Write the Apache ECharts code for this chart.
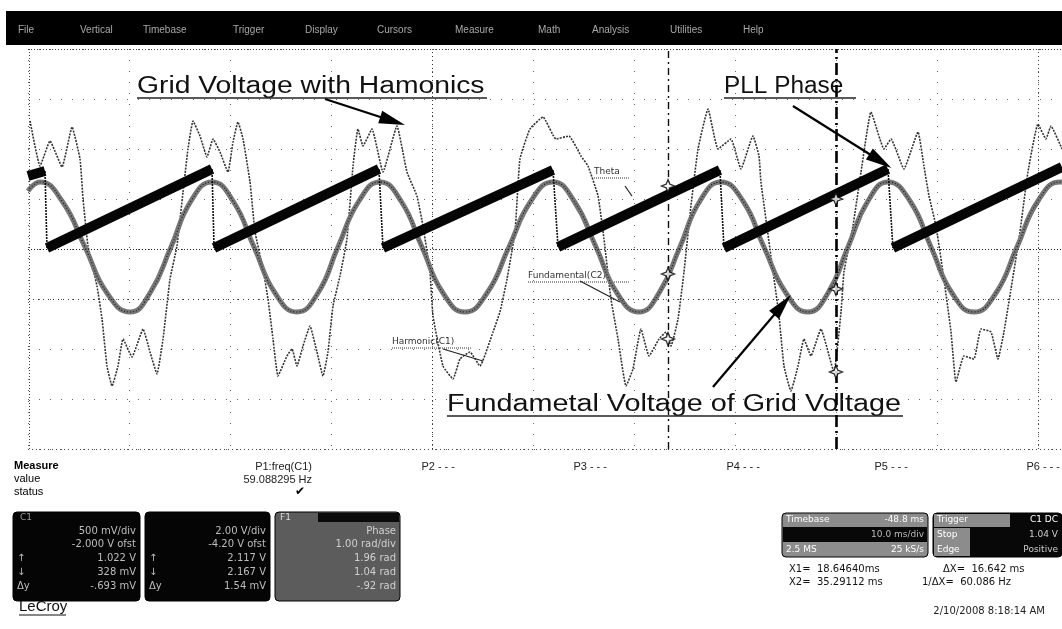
<!DOCTYPE html>
<html>
<head>
<meta charset="utf-8">
<script src="https://cdn.jsdelivr.net/npm/echarts@6/dist/echarts.min.js"></script>
<style>
  html, body { margin: 0; padding: 0; background: #fff; }
  #c { width: 1062px; height: 629px; }
</style>
</head>
<body>
<div id="c"></div>
<script>
// Time in ms (10 ms/div), amplitude in screen divisions (8 div tall).

// C1: grid voltage with harmonics
const harmonicTrace = [
  [0.20, 2.56], [1.19, 1.66], [2.18, 2.16], [3.37, 1.64], [4.36, 2.44], [5.15, 1.80], [5.45, 1.00],
  [5.94, 0.06], [6.83, -0.74], [7.33, -1.40], [7.82, -2.34], [8.32, -2.74], [8.91, -2.34], [9.41, -1.80],
  [10.30, -2.16], [11.39, -1.60], [12.08, -2.06], [12.77, -2.50], [13.37, -1.80], [14.06, -0.60],
  [14.75, 0.06], [15.35, 1.14], [15.84, 2.00],
  [16.34, 2.56], [17.03, 2.26], [17.72, 1.84], [18.32, 2.20], [19.01, 1.94], [19.80, 1.54], [20.30, 2.14],
  [20.79, 2.54], [21.29, 2.20], [21.98, 1.34], [22.48, 0.34], [23.27, -0.40], [23.76, -1.00], [24.26, -1.80],
  [24.75, -2.54], [25.64, -2.14], [26.14, -2.00], [26.63, -2.34], [27.23, -1.94], [27.92, -1.54],
  [28.61, -2.06], [29.21, -2.54], [29.70, -2.06], [30.20, -1.14], [30.89, -0.54], [31.58, 0.20], [32.18, 1.66],
  [32.67, 2.40], [33.17, 2.06], [34.06, 2.40], [35.15, 1.54], [36.53, 2.46], [37.52, 1.54], [38.51, 1.06],
  [39.11, 0.46], [39.80, -0.46], [40.10, -1.34], [41.09, -2.34], [42.08, -2.60], [42.77, -2.20],
  [43.76, -2.06], [44.75, -2.34], [46.04, -1.66], [46.73, -1.26], [47.43, -0.60], [48.22, 0.34], [48.71, 1.80],
  [49.70, 2.40], [50.99, 2.64], [52.28, 2.20], [53.56, 2.26], [54.75, 1.86], [55.45, 1.66], [56.44, 1.06],
  [57.03, 0.20], [57.72, -1.00], [58.42, -1.80], [59.21, -2.74], [59.90, -2.40], [60.69, -1.60],
  [61.49, -2.14], [62.48, -1.80], [63.17, -1.66], [63.66, -1.94], [64.36, -1.40], [64.95, -0.46],
  [65.64, 0.86], [66.34, 2.00],
  [67.33, 2.80], [68.32, 2.00], [69.60, 2.20], [70.59, 1.60], [71.78, 2.26], [72.38, 1.86], [72.57, 1.34],
  [73.56, -0.14], [74.36, -1.34], [74.85, -2.34], [75.54, -2.84], [76.24, -2.34], [76.83, -1.80],
  [77.52, -2.14], [78.51, -1.60], [79.80, -2.46], [80.50, -1.26], [80.79, -0.46], [81.68, 0.46], [82.48, 1.54],
  [83.47, 2.74], [84.75, 2.00], [85.45, 2.20], [86.73, 1.60], [88.12, 2.34], [88.71, 1.66], [89.21, 1.06],
  [89.90, 0.46], [90.59, -0.46], [91.39, -1.66], [91.88, -2.66], [92.67, -2.14], [93.66, -2.20],
  [94.36, -1.60], [95.35, -1.66], [96.04, -2.20], [96.63, -1.66], [97.33, -0.80], [98.12, 0.20],
  [99.01, 1.54], [100.00, 2.50], [100.79, 2.20], [101.29, 2.46], [102.38, 2.00]
];

// C2: fundamental component of the grid voltage
const fundamentalTrace = [
  [0.00, 1.16], [1.19, 1.34], [3.37, 0.96], [5.64, 0.04], [7.82, -0.88], [10.10, -1.26], [12.08, -0.88],
  [14.16, 0.04], [16.14, 0.96], [18.22, 1.34], [20.30, 0.96], [22.38, 0.04], [24.46, -0.88], [26.63, -1.26],
  [28.71, -0.88], [30.69, 0.04], [32.77, 0.96], [34.85, 1.34], [36.93, 0.96], [39.01, 0.04], [41.09, -0.88],
  [43.27, -1.26], [45.45, -0.88], [47.62, 0.04], [49.80, 0.96], [51.98, 1.34], [54.06, 0.96], [56.24, 0.04],
  [58.32, -0.88], [60.50, -1.26], [62.48, -0.88], [64.55, 0.04], [66.53, 0.96], [68.61, 1.34], [70.79, 0.96],
  [72.87, 0.04], [75.05, -0.88], [77.23, -1.26], [79.21, -0.88], [81.19, 0.04], [83.17, 0.96], [85.15, 1.34],
  [87.33, 0.96], [89.41, 0.04], [91.49, -0.88], [93.66, -1.26], [95.84, -0.88], [97.92, 0.04], [100.00, 0.96],
  [102.18, 1.34], [102.38, 1.34]
];

// PLL phase ramps: [tStart, vStart, tEnd, vEnd]
const phaseRamps = [
  [0.00, 1.46, 1.68, 1.56],
  [1.88, 0.02, 18.22, 1.60],
  [18.42, 0.02, 34.75, 1.60],
  [35.15, 0.02, 51.98, 1.58],
  [52.48, 0.04, 68.51, 1.58],
  [68.91, 0.02, 85.15, 1.60],
  [85.64, 0.02, 102.38, 1.64]
];

// Cursor positions (ms) and the readout marks where they cross the traces
const cursorTimes = [63.37, 80.00];
const cursorMarks = [
  [63.37, 1.26], [63.37, -0.50], [63.37, -1.80],
  [80.00, 1.00], [80.00, -0.80], [80.00, -2.46]
];

// Annotation arrows: [tailT, tailV, tipT, tipV]
const arrows = [
  [29.41, 3.00, 36.10, 2.56],
  [75.74, 2.86, 84.40, 1.76],
  [67.82, -2.76, 74.70, -1.12]
];
// Leader lines of the small trace labels
const leaders = [
  [59.11, 1.26, 59.80, 1.06],
  [54.65, -0.64, 58.61, -1.06],
  [41.09, -2.00, 45.05, -2.24]
];

const menuItems = ['File', 'Vertical', 'Timebase', 'Trigger', 'Display', 'Cursors', 'Measure', 'Math', 'Analysis', 'Utilities', 'Help'];
const menuX = [18, 80, 143, 233, 305, 377, 455, 538, 592, 670, 743];
const paramLabels = ['P1:freq(C1)', 'P2 - - -', 'P3 - - -', 'P4 - - -', 'P5 - - -', 'P6 - - -'];
const paramValue = '59.088295 Hz';

const X_MAX = 102.38;

// ---- series data assembled from the arrays above ----
const rampData = [];
const resetData = [];
phaseRamps.forEach((r, i) => {
  rampData.push([r[0], r[1]], [r[2], r[3]], [r[2], '-']);
  const nx = phaseRamps[i + 1];
  if (nx) resetData.push([r[2], r[3]], [nx[0], nx[1]], [nx[0], '-']);
});

const gridMark = (axis, val, dash, color, w) => ({
  [axis]: val, lineStyle: { type: dash, color: color, width: w || 1 }
});

const arrowLines = arrows.map(a => [
  { coord: [a[0], a[1]], symbol: 'none' },
  { coord: [a[2], a[3]], symbol: 'path://M6,0L12,26L0,26Z', symbolSize: [13, 26] }
]);
const leaderLines = leaders.map(a => [
  { coord: [a[0], a[1]], symbol: 'none' },
  { coord: [a[2], a[3]], symbol: 'none' }
]);

const F = '"Liberation Sans", Arial, sans-serif';
const graphics = [];

// menu bar
graphics.push({ type: 'rect', shape: { x: 6, y: 11, width: 1056, height: 34 }, style: { fill: '#000' }, silent: true });
menuItems.forEach((m, i) => graphics.push({
  type: 'text', x: menuX[i], y: 30,
  style: { text: m, font: '10px ' + F, fill: '#a8a8a8', verticalAlign: 'middle' }, silent: true
}));

// big annotations
function note(text, x, y, sx, w) {
  graphics.push({
    type: 'text', x: x, y: y, scaleX: sx, originX: 0, originY: 0,
    style: { text: text, font: '23px ' + F, fill: '#111', verticalAlign: 'middle' }, silent: true
  });
  graphics.push({
    type: 'line', shape: { x1: x, y1: y + 11, x2: x + w, y2: y + 11 },
    style: { stroke: '#222', lineWidth: 1.5 }, silent: true
  });
}
note('Grid Voltage with Hamonics', 137, 87, 1.23, 350);
note('PLL Phase', 724, 87, 1.06, 132);
note('Fundametal Voltage of Grid Voltage', 447, 405, 1.25, 456);

// small trace labels
function tag(text, x, y, w) {
  graphics.push({
    type: 'text', x: x, y: y,
    style: { text: text, font: '9px "DejaVu Sans", sans-serif', fill: '#333', verticalAlign: 'middle' }, silent: true
  });
  graphics.push({
    type: 'line', shape: { x1: x, y1: y + 6, x2: x + w, y2: y + 6 },
    style: { stroke: '#333', lineWidth: 1, lineDash: [1, 1] }, silent: true
  });
}
tag('Theta', 594, 172, 36);
tag('Fundamental(C2)', 528, 276, 102);
tag('Harmonic(C1)', 392, 342, 80);

// measurement table
const small = '11px ' + F;
graphics.push({ type: 'text', x: 14, y: 466, style: { text: 'Measure', font: 'bold ' + small, fill: '#000', verticalAlign: 'middle' }, silent: true });
graphics.push({ type: 'text', x: 14, y: 479, style: { text: 'value', font: small, fill: '#000', verticalAlign: 'middle' }, silent: true });
graphics.push({ type: 'text', x: 14, y: 492, style: { text: 'status', font: small, fill: '#000', verticalAlign: 'middle' }, silent: true });
const pX = [312, 455, 607, 760, 908, 1060];
paramLabels.forEach((p, i) => graphics.push({
  type: 'text', x: pX[i], y: 467,
  style: { text: p, font: small, fill: '#222', align: 'right', verticalAlign: 'middle' }, silent: true
}));
graphics.push({ type: 'text', x: 312, y: 480, style: { text: paramValue, font: small, fill: '#222', align: 'right', verticalAlign: 'middle' }, silent: true });
graphics.push({ type: 'text', x: 300, y: 492, style: { text: '✔', font: '12px "DejaVu Sans"', fill: '#000', align: 'center', verticalAlign: 'middle' }, silent: true });

// channel descriptor boxes
function box(x, y, w, h, fill) {
  graphics.push({ type: 'rect', shape: { x: x, y: y, width: w, height: h, r: 4 }, style: { fill: fill, stroke: '#000', lineWidth: 1 }, silent: true });
}
function txt(t, x, y, color, align, size) {
  graphics.push({ type: 'text', x: x, y: y, style: { text: t, font: (size || 10) + 'px "DejaVu Sans", sans-serif', fill: color, align: align || 'left', verticalAlign: 'middle' }, silent: true });
}
box(13, 512, 127, 89, '#050505');
txt('C1', 20, 518, '#9a9a9a', 'left', 9);
txt('500 mV/div', 136, 531, '#bdbdbd', 'right');
txt('-2.000 V ofst', 136, 544, '#bdbdbd', 'right');
txt('↑', 17, 558, '#bdbdbd'); txt('1.022 V', 136, 558, '#bdbdbd', 'right');
txt('↓', 17, 572, '#bdbdbd'); txt('328 mV', 136, 572, '#bdbdbd', 'right');
txt('Δy', 17, 586, '#bdbdbd'); txt('-.693 mV', 136, 586, '#bdbdbd', 'right');

box(145, 512, 125, 89, '#050505');
txt('2.00 V/div', 266, 531, '#bdbdbd', 'right');
txt('-4.20 V ofst', 266, 544, '#bdbdbd', 'right');
txt('↑', 149, 558, '#bdbdbd'); txt('2.117 V', 266, 558, '#bdbdbd', 'right');
txt('↓', 149, 572, '#bdbdbd'); txt('2.167 V', 266, 572, '#bdbdbd', 'right');
txt('Δy', 149, 586, '#bdbdbd'); txt('1.54 mV', 266, 586, '#bdbdbd', 'right');

box(275, 512, 125, 89, '#5c5c5c');
graphics.push({ type: 'rect', shape: { x: 318, y: 513, width: 81, height: 9 }, style: { fill: '#0a0a0a' }, silent: true });
txt('F1', 280, 518, '#dcdcdc', 'left', 9);
txt('Phase', 396, 531, '#d0d0d0', 'right');
txt('1.00 rad/div', 396, 544, '#d0d0d0', 'right');
txt('1.96 rad', 396, 558, '#d0d0d0', 'right');
txt('1.04 rad', 396, 572, '#d0d0d0', 'right');
txt('-.92 rad', 396, 586, '#d0d0d0', 'right');

// timebase / trigger boxes
box(782, 513, 146, 44, '#8c8c8c');
graphics.push({ type: 'rect', shape: { x: 783, y: 527, width: 144, height: 15 }, style: { fill: '#080808' }, silent: true });
txt('Timebase', 786, 520, '#fff', 'left', 9); txt('-48.8 ms', 924, 520, '#fff', 'right', 9);
txt('10.0 ms/div', 924, 535, '#bbb', 'right', 9);
txt('2.5 MS', 786, 550, '#fff', 'left', 9); txt('25 kS/s', 924, 550, '#fff', 'right', 9);
box(933, 513, 129, 44, '#080808');
graphics.push({ type: 'rect', shape: { x: 934, y: 514, width: 76, height: 13 }, style: { fill: '#8c8c8c' }, silent: true });
graphics.push({ type: 'rect', shape: { x: 934, y: 528, width: 36, height: 28 }, style: { fill: '#8c8c8c' }, silent: true });
txt('Trigger', 937, 520, '#fff', 'left', 9); txt('C1 DC', 1058, 520, '#fff', 'right', 9);
txt('Stop', 937, 535, '#fff', 'left', 9); txt('1.04 V', 1058, 535, '#ccc', 'right', 9);
txt('Edge', 937, 550, '#fff', 'left', 9); txt('Positive', 1058, 550, '#ccc', 'right', 9);

// cursor readouts
txt('X1=  18.64640ms', 789, 569, '#111', 'left', 10);
txt('ΔX=  16.642 ms', 943, 569, '#111', 'left', 10);
txt('X2=  35.29112 ms', 789, 582, '#111', 'left', 10);
txt('1/ΔX=  60.086 Hz', 922, 582, '#111', 'left', 10);
txt('2/10/2008 8:18:14 AM', 1045, 611, '#222', 'right', 10);

// brand
graphics.push({ type: 'text', x: 19, y: 607, style: { text: 'LeCroy', font: '15px ' + F, fill: '#111', verticalAlign: 'middle' }, silent: true });
graphics.push({ type: 'line', shape: { x1: 19, y1: 615, x2: 66, y2: 615 }, style: { stroke: '#111', lineWidth: 1.2 }, silent: true });

const option = {
  animation: false,
  backgroundColor: '#fff',
  grid: { left: 28, right: 0, top: 49, height: 400 },
  xAxis: {
    type: 'value', min: 0, max: X_MAX, interval: 10,
    axisLine: { show: false }, axisTick: { show: false }, axisLabel: { show: false },
    splitLine: { show: true, lineStyle: { color: '#666', type: [1, 10], width: 1 } }
  },
  yAxis: {
    type: 'value', min: -4, max: 4, interval: 1,
    axisLine: { show: false }, axisTick: { show: false }, axisLabel: { show: false },
    splitLine: { show: true, lineStyle: { color: '#666', type: [1, 10], width: 1 } }
  },
  graphic: graphics,
  series: [
    {
      name: 'Harmonic(C1)', type: 'line', data: harmonicTrace, showSymbol: false, smooth: 0.12,
      lineStyle: { color: '#333', width: 1.6, type: [2, 1.2] }, z: 2,
      markLine: {
        silent: true, symbol: 'none', label: { show: false },
        data: [
          gridMark('yAxis', 0, [1, 2], '#222'),
          gridMark('yAxis', -1, [1, 4], '#333'),
          gridMark('yAxis', 4, [1, 2], '#444'),
          gridMark('yAxis', -4, [1, 3], '#444'),
          gridMark('xAxis', 0.1, [1, 2], '#444'),
          gridMark('xAxis', 40, [1, 3], '#333'),
          gridMark('xAxis', 100, [1, 3], '#444'),
          gridMark('xAxis', cursorTimes[0], [7, 4, 2, 4], '#111', 1.4),
          gridMark('xAxis', cursorTimes[1], [12, 4, 2, 4], '#000', 2.6)
        ]
      }
    },
    {
      name: 'Fundamental(C2)', type: 'line', data: fundamentalTrace, showSymbol: false, smooth: 0.5,
      lineStyle: { color: '#777', width: 5 }, z: 3
    },
    {
      name: 'Fundamental(C2) edge', type: 'line', data: fundamentalTrace, showSymbol: false, smooth: 0.5,
      lineStyle: { color: '#1a1a1a', width: 1.2, type: [1, 2] }, z: 4
    },
    {
      name: 'Phase reset', type: 'line', data: resetData, showSymbol: false, connectNulls: false,
      lineStyle: { color: '#111', width: 1.6, type: [2, 1] }, z: 5
    },
    {
      name: 'PLL Phase', type: 'line', data: rampData, showSymbol: false, connectNulls: false,
      lineStyle: { color: '#050505', width: 10, cap: 'butt' }, z: 6,
      markLine: {
        silent: true, label: { show: false },
        lineStyle: { color: '#000', width: 2.2, type: 'solid' },
        data: arrowLines
      }
    },
    {
      name: 'Labels', type: 'line', data: [], z: 6,
      markLine: {
        silent: true, label: { show: false }, symbol: 'none',
        lineStyle: { color: '#222', width: 1.2, type: 'solid' },
        data: leaderLines
      }
    },
    {
      name: 'Cursor readout', type: 'scatter', data: cursorMarks, z: 7,
      symbol: 'path://M0,-7L2,-2L7,0L2,2L0,7L-2,2L-7,0L-2,-2Z', symbolSize: 13,
      itemStyle: { color: '#fff', borderColor: '#000', borderWidth: 1.3 }
    }
  ]
};

const chart = echarts.init(document.getElementById('c'), null, { renderer: 'canvas' });
chart.setOption(option);
</script>
</body>
</html>
